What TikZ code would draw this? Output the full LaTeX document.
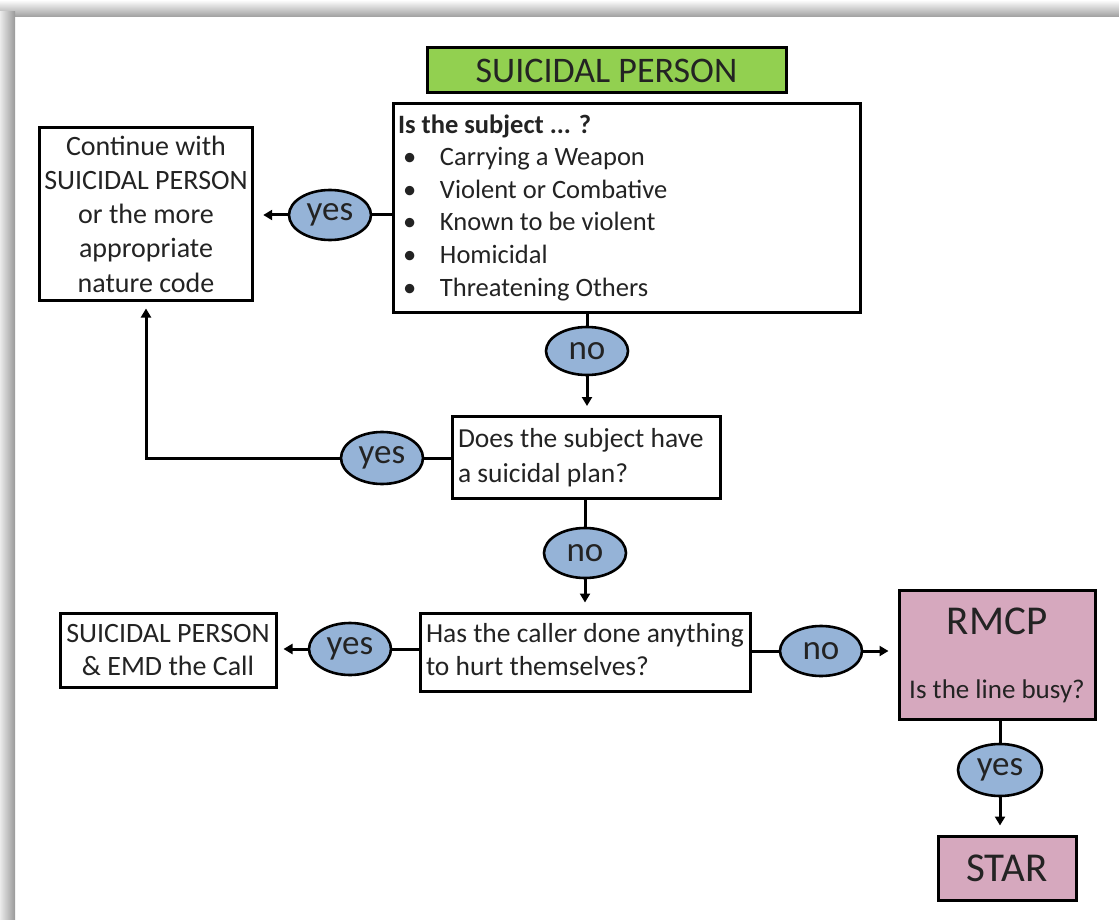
\documentclass[tikz,border=0pt]{standalone}
\usepackage{fontspec}
\setmainfont{Carlito}
\usetikzlibrary{arrows.meta,shapes.geometric}
\definecolor{titlegreen}{RGB}{146,208,80}
\definecolor{answerblue}{RGB}{149,179,215}
\definecolor{endpink}{RGB}{214,168,190}
\definecolor{ink}{RGB}{35,35,35}
\newcommand\listbullet{\hspace*{5pt}\makebox[37pt][l]{\textbullet}}
% left-aligned block of lines filling a fixed width
\newcommand\leftlines[2]{\makebox[#1][l]{\begin{tabular}{@{}l@{}}#2\end{tabular}}}
\tikzset{
  stepbox/.style={draw=black, line width=3pt, fill=white, text=ink, inner sep=5pt},
  answer/.style={ellipse, draw=black, line width=2.6pt, fill=answerblue, text=ink,
    inner sep=0pt, minimum width=82pt, minimum height=50pt,
    font=\fontsize{35}{35}\selectfont},
  link/.style={line width=3pt, draw=black},
  arrowlink/.style={link, -{Triangle[length=9pt,width=10pt]}, shorten >=9pt}
}
\begin{document}
\begin{tikzpicture}[x=1pt, y=-1pt]
  % page and its shaded frame edges
  \useasboundingbox (0,0) rectangle (1119,920);
  \fill[white] (0,0) rectangle (1119,920);
  \shade[top color=white, bottom color=black!38] (0,0) rectangle (1119,17);
  \shade[left color=black!8, right color=black!40] (0,12) rectangle (15,920);

  % title
  \node[stepbox, fill=titlegreen, minimum width=359pt, minimum height=45pt,
        font=\fontsize{36}{36}\selectfont] (title) at (606.5,70.5) {SUICIDAL PERSON};

  % first question with its list
  \node[stepbox, minimum width=467pt, minimum height=208pt,
        font=\fontsize{26.5}{32.6}\selectfont] (q1) at (626.5,208)
    {\leftlines{457pt}{\textbf{Is the subject ... ?}\\
     \listbullet Carrying a Weapon\\
     \listbullet Violent or Combative\\
     \listbullet Known to be violent\\
     \listbullet Homicidal\\
     \listbullet Threatening Others}};

  % outcome on the left
  \node[stepbox, minimum width=212pt, minimum height=172pt, align=center,
        font=\fontsize{28}{34.3}\selectfont] (cont) at (146,214)
    {Continue with\\SUICIDAL PERSON\\or the more\\appropriate\\nature code};

  % second and third questions
  \node[stepbox, minimum width=268pt, minimum height=81pt, inner sep=6pt,
        font=\fontsize{27.5}{35}\selectfont] (q2) at (586,457.5)
    {\leftlines{256pt}{Does the subject have\\a suicidal plan?}};
  \node[stepbox, minimum width=330pt, minimum height=76pt, inner sep=6pt,
        font=\fontsize{27.5}{33}\selectfont] (q3) at (585,652)
    {\leftlines{318pt}{Has the caller done anything\\to hurt themselves?}};

  % dispatch outcomes
  \node[stepbox, minimum width=216pt, minimum height=74pt, align=center, inner sep=2pt,
        font=\fontsize{28}{33}\selectfont] (emd) at (168,650)
    {SUICIDAL PERSON\\\& EMD the Call};
  \node[stepbox, fill=endpink, minimum width=196pt, minimum height=129pt, align=center,
        inner sep=0pt, font=\fontsize{27}{64}\selectfont] (rmcp) at (997,655)
    {{\fontsize{41}{41}\selectfont RMCP}\\Is the line busy?};
  \node[stepbox, fill=endpink, minimum width=138pt, minimum height=64pt,
        font=\fontsize{41}{41}\selectfont] (star) at (1007,868) {STAR};

  % answers
  \node[answer] (yes1) at (330,215) {yes};
  \node[answer, minimum height=48pt] (no1) at (587,351) {no};
  \node[answer, minimum height=52pt] (yes2) at (382,458) {yes};
  \node[answer] (no2) at (585,553) {no};
  \node[answer, minimum height=52pt] (yes3) at (350,649) {yes};
  \node[answer] (no3) at (821,651) {no};
  \node[answer, minimum width=84pt, minimum height=52pt] (yes4) at (1000,770) {yes};

  % connectors
  \draw[link] (yes1.east) -- (yes1.east -| q1.west);
  \draw[arrowlink] (yes1.west) -- (yes1.west -| cont.east);

  \draw[link] (no1.north) -- (no1.north |- q1.south);
  \draw[arrowlink] (no1.south) -- (no1.south |- q2.north);

  \draw[link] (yes2.east) -- (yes2.east -| q2.west);
  \draw[arrowlink, shorten >=7pt] (yes2.west) -| (cont.south);

  \draw[link] (no2.north) -- (no2.north |- q2.south);
  \draw[arrowlink] (no2.south) -- (no2.south |- q3.north);

  \draw[link] (yes3.east) -- (yes3.east -| q3.west);
  \draw[arrowlink, shorten >=6pt] (yes3.west) -- (yes3.west -| emd.east);

  \draw[link] (no3.west) -- (no3.west -| q3.east);
  \draw[arrowlink] (no3.east) -- (no3.east -| rmcp.west);

  \draw[link] (yes4.north) -- (yes4.north |- rmcp.south);
  \draw[arrowlink] (yes4.south) -- (yes4.south |- star.north);
\end{tikzpicture}
\end{document}
